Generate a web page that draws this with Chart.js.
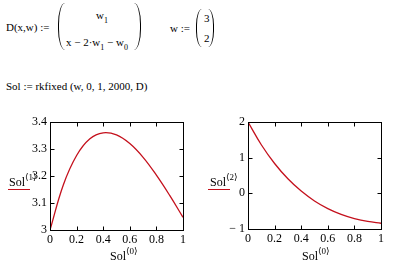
<!DOCTYPE html>
<html>
<head>
<meta charset="utf-8">
<script src="https://cdn.jsdelivr.net/npm/chart.js@4.4.1/dist/chart.umd.min.js"></script>
<style>
  html, body { margin: 0; padding: 0; background: #fff; }
  #page { position: relative; width: 400px; height: 273px; overflow: hidden; font-family: "Liberation Serif", "DejaVu Serif", serif; color: #000; }
  .t { position: absolute; font-size: 12px; line-height: 12px; white-space: nowrap; }
  .eq { font-size: 11px; }
  .sub { font-size: 8px; position: relative; top: 4px; }
  .sup { font-size: 9px; position: relative; top: -6px; }
  .pl { position: absolute; border-left: 1.2px solid #000; }
  .pr { position: absolute; border-right: 1.2px solid #000; }
  .box { position: absolute; width: 200px; height: 163px; top: 110px; }
  .key { position: absolute; height: 0; border-top: 1.3px solid #c4101c; width: 22px; }
</style>
</head>
<body>
<div id="page">
  <div class="t eq" style="left:6px;top:21px">D(x,w) :=</div>
  <div class="pl" style="left:58px;top:3px;width:6px;height:47px;border-radius:8px 0 0 8px / 24px 0 0 24px"></div>
  <div class="t eq" style="left:96px;top:9px">w<span class="sub">1</span></div>
  <div class="t eq" style="left:66px;top:36px">x − 2·w<span class="sub">1</span> − w<span class="sub">0</span></div>
  <div class="pr" style="left:134px;top:3px;width:6px;height:47px;border-radius:0 8px 8px 0 / 0 24px 24px 0"></div>

  <div class="t eq" style="left:170px;top:22px">w :=</div>
  <div class="pl" style="left:196px;top:9px;width:5px;height:38px;border-radius:7px 0 0 7px / 19px 0 0 19px"></div>
  <div class="t eq" style="left:204px;top:12px">3</div>
  <div class="t eq" style="left:204px;top:32px">2</div>
  <div class="pr" style="left:208px;top:9px;width:5px;height:38px;border-radius:0 7px 7px 0 / 0 19px 19px 0"></div>

  <div class="t eq" style="left:6px;top:80px">Sol := rkfixed (w, 0, 1, 2000, D)</div>

  <div class="box" style="left:0"><canvas id="c1" width="200" height="163"></canvas></div>
  <div class="box" style="left:200px"><canvas id="c2" width="200" height="163"></canvas></div>

  <div class="t" style="left:9px;top:176px">Sol<span class="sup">⟨1⟩</span></div>
  <div class="key" style="left:8px;top:189px"></div>
  <div class="t" style="left:110px;top:250px">Sol<span class="sup">⟨0⟩</span></div>

  <div class="t" style="left:210px;top:176px">Sol<span class="sup">⟨2⟩</span></div>
  <div class="key" style="left:208px;top:189px"></div>
  <div class="t" style="left:302px;top:250px">Sol<span class="sup">⟨0⟩</span></div>
</div>
<script>
// Sol<0> column (x) and the two solution columns
const solX = [0, 0.1, 0.2, 0.3, 0.4, 0.5, 0.6, 0.7, 0.8, 0.9, 1];
const sol1 = [3, 3.167, 3.276, 3.338, 3.360, 3.352, 3.320, 3.269, 3.203, 3.128, 3.047];
const sol2 = [2, 1.362, 0.836, 0.407, 0.062, -0.213, -0.427, -0.589, -0.707, -0.789, -0.839];

const xTicks = [0, 0.2, 0.4, 0.6, 0.8, 1];
const yTicks1 = [3, 3.1, 3.2, 3.3, 3.4];
const yTicks2 = [-1, 0, 1, 2];

const lineColor = "#c4101c";
const font = { family: "Liberation Serif", size: 12 };

// box round the plot area with short ticks pointing inward on all four sides
const frame = {
  id: "frame",
  afterDraw(chart) {
    const { ctx, chartArea: a, scales } = chart;
    const L = Math.round(a.left) + 0.5, R = Math.round(a.right) + 0.5;
    const T = Math.round(a.top) + 0.5, B = Math.round(a.bottom) + 0.5;
    ctx.save();
    ctx.strokeStyle = "#000";
    ctx.lineWidth = 1;
    ctx.strokeRect(L, T, R - L, B - T);
    ctx.beginPath();
    scales.x.ticks.forEach((t) => {
      const px = Math.round(scales.x.getPixelForValue(t.value)) + 0.5;
      if (px <= L + 1 || px >= R - 1) return;
      ctx.moveTo(px, B); ctx.lineTo(px, B - 4);
      ctx.moveTo(px, T); ctx.lineTo(px, T + 4);
    });
    scales.y.ticks.forEach((t) => {
      const py = Math.round(scales.y.getPixelForValue(t.value)) + 0.5;
      if (py <= T + 1 || py >= B - 1) return;
      ctx.moveTo(L, py); ctx.lineTo(L + 4, py);
      ctx.moveTo(R, py); ctx.lineTo(R - 4, py);
    });
    ctx.stroke();
    ctx.restore();
  },
};

function minus(v) {
  return v < 0 ? "\u2212 " + Math.abs(v) : String(v);
}

function makeChart(id, ys, yTicks, pad, yWidth, xHeight) {
  return new Chart(document.getElementById(id), {
    type: "scatter",
    data: {
      datasets: [{
        data: solX.map((x, i) => ({ x, y: ys[i] })),
        showLine: true,
        borderColor: lineColor,
        borderWidth: 1.3,
        pointRadius: 0,
        tension: 0.4,
      }],
    },
    options: {
      responsive: false,
      animation: false,
      events: [],
      layout: { padding: pad },
      plugins: { legend: { display: false }, tooltip: { enabled: false } },
      scales: {
        x: {
          type: "linear",
          min: 0,
          max: 1,
          afterBuildTicks: (s) => { s.ticks = xTicks.map((value) => ({ value })); },
          afterFit: (s) => { s.height = xHeight; },
          grid: { display: false, drawTicks: false },
          border: { display: false },
          ticks: { color: "#000", font, padding: 3, maxRotation: 0, callback: (v) => String(v) },
        },
        y: {
          type: "linear",
          min: yTicks[0],
          max: yTicks[yTicks.length - 1],
          afterBuildTicks: (s) => { s.ticks = yTicks.map((value) => ({ value })); },
          afterFit: (s) => { s.width = yWidth; },
          grid: { display: false, drawTicks: false },
          border: { display: false },
          ticks: { color: "#000", font, padding: 3, callback: minus },
        },
      },
    },
    plugins: [frame],
  });
}

makeChart("c1", sol1, yTicks1, { left: 0, right: 17, top: 12, bottom: 0 }, 50, 43);
makeChart("c2", sol2, yTicks2, { left: 0, right: 19, top: 12, bottom: 0 }, 48, 44);
</script>
</body>
</html>
